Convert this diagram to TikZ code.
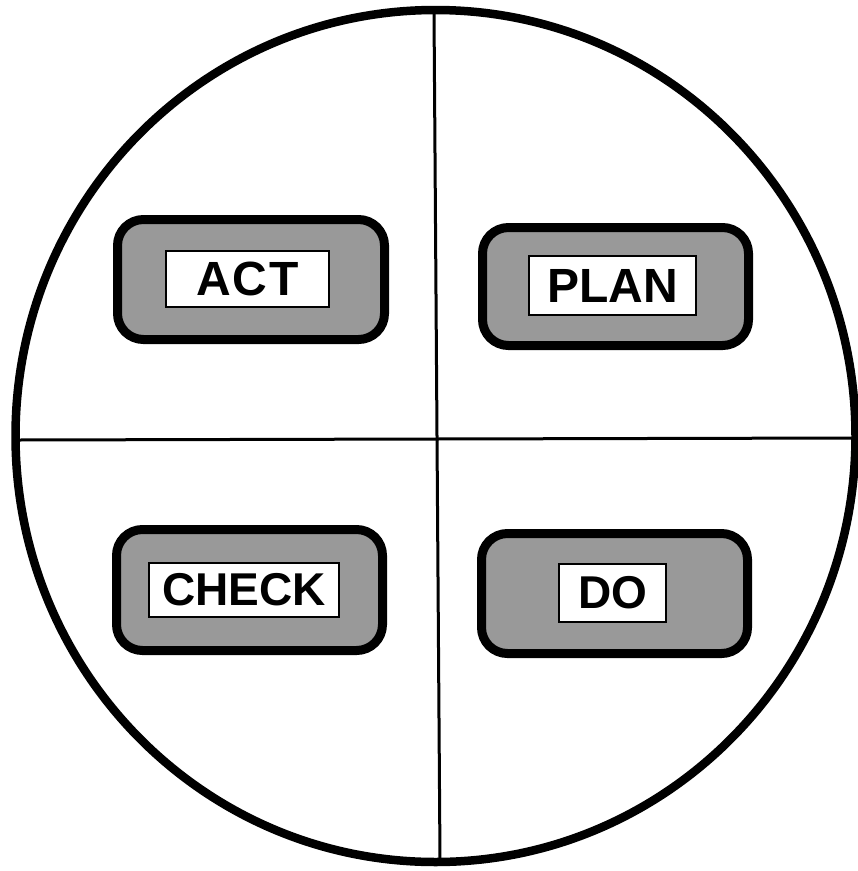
\documentclass[tikz,border=0pt]{standalone}
\usepackage{fontspec}
\setmainfont{Liberation Sans}
\begin{document}
\begin{tikzpicture}[x=1pt,y=-1pt,
  outerbox/.style={draw=black, line width=9pt, fill=black!40, rounded corners=26pt, inner sep=0pt},
  labelbox/.style={draw=black, line width=2pt, fill=white, inner sep=0pt,
    font=\fontsize{46}{50}\selectfont\bfseries},
  widetext/.style={font=\fontsize{48}{52}\selectfont\bfseries}]
\useasboundingbox (0,0) rectangle (858,871);
% circle and cross
\draw[line width=8.5pt] (435.5,436) ellipse [x radius=420, y radius=426];
\coordinate (top) at (434,12);
\coordinate (bot) at (440,860);
\coordinate (lft) at (18,440);
\coordinate (rgt) at (853,438);
\draw[line width=3pt] (top) -- (bot);
\draw[line width=3pt] (lft) -- (rgt);
% ACT
\node[outerbox, minimum width=267pt, minimum height=120pt] (actbg) at (251,279.5) {};
\node[labelbox, widetext, minimum width=163pt, minimum height=56pt] (act) at (247.5,279) {A\kern2pt C\kern2pt T};
% PLAN
\node[outerbox, minimum width=266pt, minimum height=118pt] (planbg) at (615.5,286.5) {};
\node[labelbox, widetext, minimum width=167pt, minimum height=59pt] (plan) at (612.5,285.5) {PLAN};
% CHECK
\node[outerbox, minimum width=266pt, minimum height=121pt] (checkbg) at (249.5,590) {};
\node[labelbox, minimum width=190pt, minimum height=54pt] (check) at (244,590) {CHECK};
% DO
\node[outerbox, minimum width=266pt, minimum height=120pt] (dobg) at (614.5,593.5) {};
\node[labelbox, minimum width=107pt, minimum height=58pt] (do) at (612.5,593) {DO};
\end{tikzpicture}
\end{document}
